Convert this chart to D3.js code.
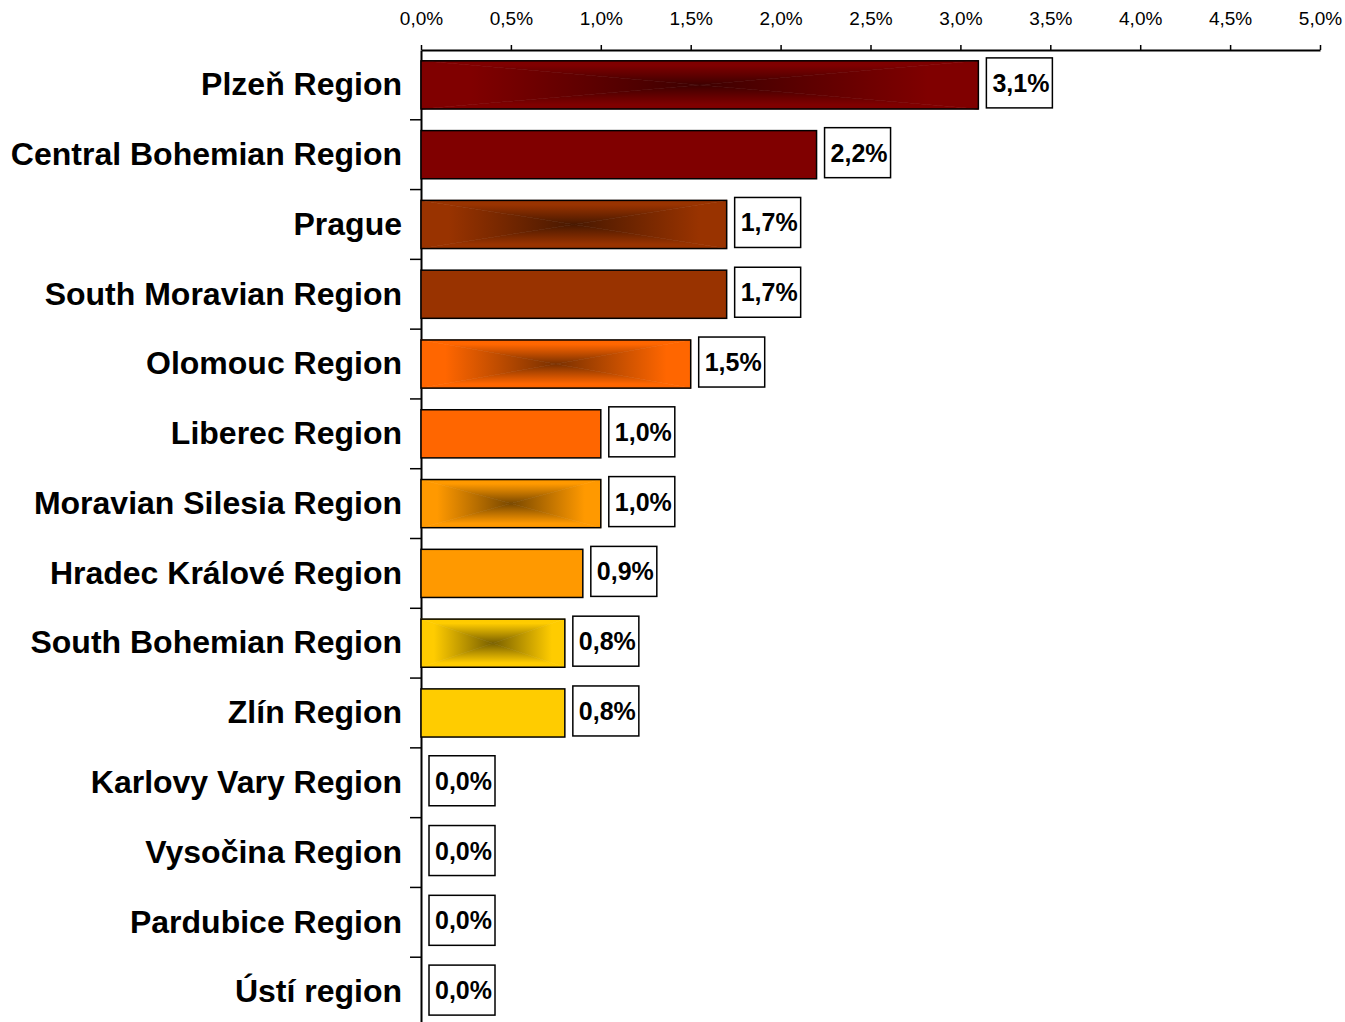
<!DOCTYPE html>
<html>
<head>
<meta charset="utf-8">
<script src="https://cdn.jsdelivr.net/npm/d3@7"></script>
<style>
  html, body { margin: 0; padding: 0; background: #fff; }
  svg { display: block; }
</style>
</head>
<body>
<script>
// ---- data ----
const categories = [
  "Plzeň Region", "Central Bohemian Region", "Prague", "South Moravian Region",
  "Olomouc Region", "Liberec Region", "Moravian Silesia Region", "Hradec Králové Region",
  "South Bohemian Region", "Zlín Region", "Karlovy Vary Region", "Vysočina Region",
  "Pardubice Region", "Ústí region"
];
const values = [3.1, 2.2, 1.7, 1.7, 1.5, 1.0, 1.0, 0.9, 0.8, 0.8, 0.0, 0.0, 0.0, 0.0];
const barColors = ["#800000", "#800000", "#993300", "#993300", "#FF6600", "#FF6600",
                   "#FF9900", "#FF9900", "#FFCC00", "#FFCC00", "#FFCC00", "#FFCC00", "#FFCC00", "#FFCC00"];
const gradientBars = [true, false, true, false, true, false, true, false, true, false, false, false, false, false];
const xTicks = [0, 0.5, 1.0, 1.5, 2.0, 2.5, 3.0, 3.5, 4.0, 4.5, 5.0];

// ---- setup ----
const W = 1345, H = 1022;
const FONT = "'Liberation Sans', Arial, sans-serif";
const svg = d3.select("body").append("svg").attr("width", W).attr("height", H);
const defs = svg.append("defs");

const locale = d3.formatLocale({decimal: ",", thousands: ".", grouping: [3], currency: ["", "€"]});
const fmt = locale.format(".1f");
const pct = v => fmt(v) + "%";

const x = d3.scaleLinear().domain([0, 5]).range([421, 1320]);
const y = d3.scaleBand().domain(categories).range([50, 1027]).paddingInner(0.31).paddingOuter(0.155);
const step = y.step();

// ---- x axis (top) ----
const xAxis = svg.append("g").attr("transform", "translate(0,50)")
  .call(d3.axisTop(x).tickValues(xTicks).tickSizeInner(5).tickSizeOuter(0).tickPadding(20).tickFormat(pct));
xAxis.select(".domain").attr("stroke", "#000").attr("stroke-width", 2);
xAxis.selectAll(".tick line").attr("stroke", "#000").attr("stroke-width", 1.5);
xAxis.selectAll(".tick text")
  .attr("fill", "#000")
  .style("font-family", FONT)
  .style("font-size", "19px");

// ---- y axis (left) ----
const yAxis = svg.append("g").attr("transform", "translate(421,0)")
  .call(d3.axisLeft(y).tickSizeInner(0).tickSizeOuter(0).tickPadding(19));
yAxis.select(".domain").attr("stroke", "#000").attr("stroke-width", 2);
yAxis.selectAll(".tick text")
  .attr("fill", "#000")
  .style("font-family", FONT)
  .style("font-weight", "bold")
  .style("font-size", "32px");
// category boundary ticks
svg.append("g").selectAll("line")
  .data(categories.slice(0, -1))
  .join("line")
  .attr("x1", 410).attr("x2", 421)
  .attr("y1", d => y(d) + y.bandwidth() + step * 0.155)
  .attr("y2", d => y(d) + y.bandwidth() + step * 0.155)
  .attr("stroke", "#000").attr("stroke-width", 1.5);

// ---- gradients ("from centre" rectangular) ----
const gradColors = Array.from(new Set(barColors.filter((c, i) => gradientBars[i])));
const dirs = {
  top:    {x1: 0, y1: 0, x2: 0, y2: 1},
  bottom: {x1: 0, y1: 1, x2: 0, y2: 0},
  left:   {x1: 0, y1: 0, x2: 1, y2: 0},
  right:  {x1: 1, y1: 0, x2: 0, y2: 0}
};
const gid = (c, d) => "g" + c.replace("#", "") + d;
gradColors.forEach(c => {
  const dark = d3.color(c).darker(2.1).formatHex();
  Object.entries(dirs).forEach(([name, p]) => {
    const g = defs.append("linearGradient").attr("id", gid(c, name))
      .attr("x1", p.x1).attr("y1", p.y1).attr("x2", p.x2).attr("y2", p.y2);
    g.append("stop").attr("offset", 0).attr("stop-color", c);
    g.append("stop").attr("offset", 0.18).attr("stop-color", c);
    g.append("stop").attr("offset", 1).attr("stop-color", dark);
  });
});

// ---- bars ----
const rows = categories.map((c, i) => ({c, v: values[i], color: barColors[i], grad: gradientBars[i]}));
const bars = svg.append("g");
rows.filter(d => d.v > 0).forEach(d => {
  const x0 = x(0), x1 = x(d.v), y0 = y(d.c), y1 = y0 + y.bandwidth();
  const cx = (x0 + x1) / 2, cy = (y0 + y1) / 2;
  const g = bars.append("g");
  if (d.grad) {
    const tris = {
      top:    [[x0, y0], [x1, y0], [cx, cy]],
      bottom: [[x0, y1], [x1, y1], [cx, cy]],
      left:   [[x0, y0], [x0, y1], [cx, cy]],
      right:  [[x1, y0], [x1, y1], [cx, cy]]
    };
    Object.entries(tris).forEach(([name, pts]) => {
      g.append("path")
        .attr("d", d3.line()(pts) + "Z")
        .attr("fill", `url(#${gid(d.color, name)})`)
        .attr("stroke", `url(#${gid(d.color, name)})`)
        .attr("stroke-width", 0.6);
    });
    g.append("rect").attr("x", x0).attr("y", y0).attr("width", x1 - x0).attr("height", y1 - y0)
      .attr("fill", "none").attr("stroke", "#000").attr("stroke-width", 1.5);
  } else {
    g.append("rect").attr("x", x0).attr("y", y0).attr("width", x1 - x0).attr("height", y1 - y0)
      .attr("fill", d.color).attr("stroke", "#000").attr("stroke-width", 1.5);
  }
});

// ---- value labels ----
const boxW = 66, boxH = 50;
const labels = svg.append("g").selectAll("g").data(rows).join("g")
  .attr("transform", d => `translate(${x(d.v) + 8},${y(d.c) + y.bandwidth() / 2 - 2 - boxH / 2})`);
labels.append("rect")
  .attr("width", boxW).attr("height", boxH)
  .attr("fill", "#fff").attr("stroke", "#000").attr("stroke-width", 1.5);
labels.append("text")
  .attr("x", 6).attr("y", boxH / 2 + 9)
  .attr("fill", "#000")
  .style("font-family", FONT)
  .style("font-weight", "bold")
  .style("font-size", "25px")
  .text(d => pct(d.v));
</script>
</body>
</html>
